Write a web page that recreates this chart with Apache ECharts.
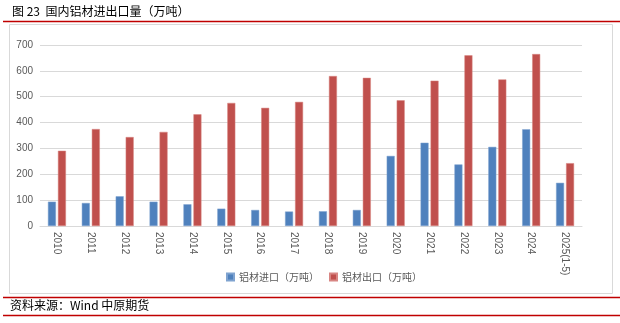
<!DOCTYPE html>
<html>
<head>
<meta charset="utf-8">
<script src="https://cdn.jsdelivr.net/npm/echarts@6/dist/echarts.min.js"></script>
<style>
  html, body { margin: 0; padding: 0; background: #fff; }
  #chart { width: 620px; height: 323px; }
</style>
</head>
<body>
<div id="chart"></div>
<script>
// Aluminium products trade volume, 10k tonnes
var years = ['2010', '2011', '2012', '2013', '2014', '2015', '2016', '2017',
             '2018', '2019', '2020', '2021', '2022', '2023', '2024', '2025(1-5)'];
var importVals = [94, 89, 115, 94, 84, 67, 62, 56, 57, 62, 271, 322, 238, 306, 374, 167];
var exportVals = [291, 375, 344, 364, 432, 476, 457, 480, 580, 573, 486, 562, 660, 567, 665, 243];
var importName = '铝材进口（万吨）';
var exportName = '铝材出口（万吨）';
var yTicks = [0, 100, 200, 300, 400, 500, 600, 700];

var cjk = '"Noto Sans CJK SC", "Microsoft YaHei", sans-serif';
var chart = echarts.init(document.getElementById('chart'));

chart.setOption({
  animation: false,
  backgroundColor: '#ffffff',
  graphic: [
    { type: 'text', left: 12, top: 5,
      style: { text: '图 23  国内铝材进出口量（万吨）', font: '12px ' + cjk, fill: '#000' } },
    { type: 'line', shape: { x1: 3, y1: 21.5, x2: 620, y2: 21.5 },
      style: { stroke: '#c00000', lineWidth: 1.5 } },
    { type: 'rect', shape: { x: 9.5, y: 24.5, width: 603, height: 269 },
      style: { fill: 'none', stroke: '#d9d9d9', lineWidth: 1 } },
    { type: 'line', shape: { x1: 3, y1: 297.5, x2: 620, y2: 297.5 },
      style: { stroke: '#c00000', lineWidth: 1.5 } },
    { type: 'text', left: 10, top: 299,
      style: { text: '资料来源：Wind 中原期货', font: '12px ' + cjk, fill: '#000' } },
    { type: 'line', shape: { x1: 3, y1: 315.5, x2: 620, y2: 315.5 },
      style: { stroke: '#c00000', lineWidth: 1.5 } }
  ],
  legend: {
    bottom: 36,
    left: 221,
    itemWidth: 7,
    itemHeight: 7,
    itemGap: 10,
    icon: 'rect',
    textStyle: { fontFamily: cjk, fontSize: 10, color: '#595959' },
    data: [importName, exportName]
  },
  grid: { left: 40, right: 38, top: 45, bottom: 97, containLabel: false },
  xAxis: {
    type: 'category',
    data: years,
    axisLine: { lineStyle: { color: '#d9d9d9' } },
    axisTick: { show: false },
    axisLabel: { rotate: -90, interval: 0, color: '#595959', fontSize: 10, margin: 6,
                 fontFamily: 'Liberation Sans, Arial, sans-serif' }
  },
  yAxis: {
    type: 'value',
    min: 0,
    max: 700,
    interval: 100,
    axisLine: { show: false },
    axisTick: { show: false },
    splitLine: { lineStyle: { color: '#d9d9d9', width: 1 } },
    axisLabel: { color: '#595959', fontSize: 10, margin: 7,
                 fontFamily: 'Liberation Sans, Arial, sans-serif',
                 formatter: function (v) { return yTicks.indexOf(v) >= 0 ? String(v) : ''; } }
  },
  series: [
    { name: importName, type: 'bar', data: importVals, barWidth: 8, barGap: '25%',
      itemStyle: { color: '#4f81bd', borderColor: '#7fa3d0', borderWidth: 0.5 } },
    { name: exportName, type: 'bar', data: exportVals, barWidth: 8,
      itemStyle: { color: '#c0504d', borderColor: '#d88683', borderWidth: 0.5 } }
  ]
});
</script>
</body>
</html>
